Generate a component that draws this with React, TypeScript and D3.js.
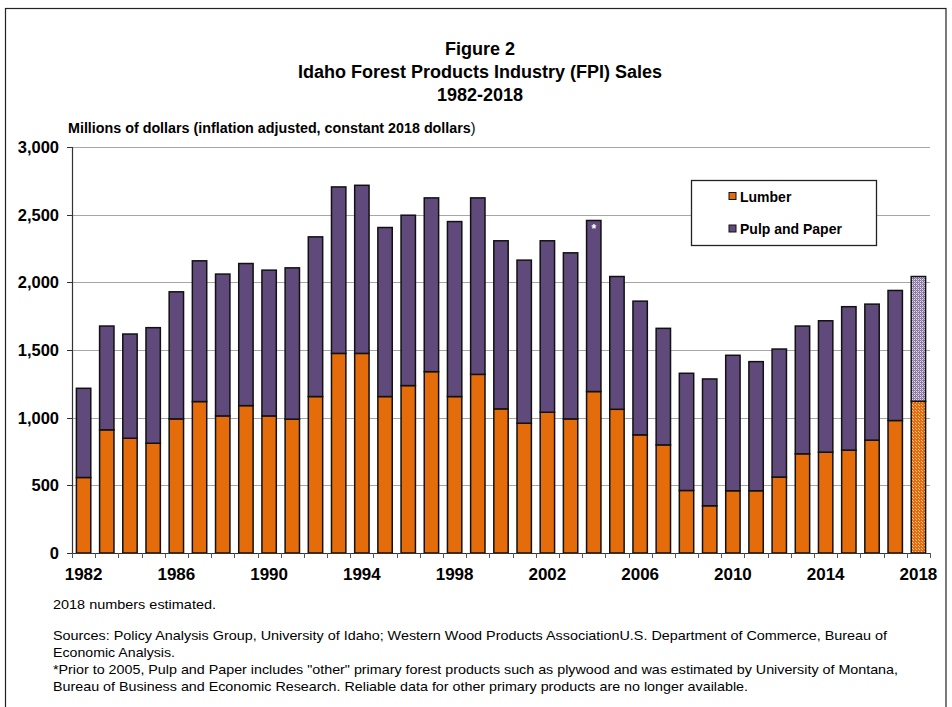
import React, { useEffect, useRef } from "react";
import * as d3 from "d3";

const years = [
  1982, 1983, 1984, 1985, 1986, 1987, 1988, 1989, 1990, 1991, 1992, 1993,
  1994, 1995, 1996, 1997, 1998, 1999, 2000, 2001, 2002, 2003, 2004, 2005,
  2006, 2007, 2008, 2009, 2010, 2011, 2012, 2013, 2014, 2015, 2016, 2017, 2018,
];
const lumber = [
  558, 910, 848, 811, 991, 1119, 1013, 1089, 1013, 989, 1156, 1475, 1475,
  1156, 1237, 1340, 1156, 1320, 1065, 959, 1040, 991, 1193, 1062, 873, 799,
  462, 349, 460, 460, 561, 733, 745, 760, 834, 979, 1121,
];
const pulpPaper = [
  659, 767, 770, 854, 939, 1040, 1048, 1050, 1077, 1118, 1180, 1230, 1242,
  1249, 1259, 1284, 1293, 1304, 1242, 1205, 1267, 1227, 1264, 981, 988, 861,
  866, 937, 1001, 954, 946, 944, 971, 1060, 1005, 961, 922,
];
const yTicks = [0, 500, 1000, 1500, 2000, 2500, 3000];
const xLabels = [1982, 1986, 1990, 1994, 1998, 2002, 2006, 2010, 2014, 2018];
const estimatedYear = 2018;
const asteriskYear = 2004;

const titleLines = [
  "Figure 2",
  "Idaho Forest Products Industry (FPI) Sales",
  "1982-2018",
];
const notes = [
  "2018 numbers estimated.",
  "",
  "Sources: Policy Analysis Group, University of Idaho; Western Wood Products AssociationU.S. Department of Commerce, Bureau of",
  "Economic Analysis.",
  '*Prior to 2005, Pulp and Paper includes "other" primary forest products such as plywood and was estimated by University of Montana,',
  "Bureau of Business and Economic Research. Reliable data for other primary products are no longer available.",
];
const noteWidths = [163, 0, 834, 122, 845, 695];

const ORANGE = "#E46C0A";
const PURPLE = "#604A7B";
const FONT = "'Liberation Sans', Arial, sans-serif";

function App() {
  const ref = useRef<SVGSVGElement>(null);

  useEffect(() => {
    const svg = d3.select(ref.current);
    svg.selectAll("*").remove();
    const W = 952;
    const H = 707;
    const margin = { top: 147, right: 22, bottom: 154, left: 72 };
    const innerW = W - margin.left - margin.right;
    const innerH = H - margin.top - margin.bottom;

    // patterns for the estimated year
    const defs = svg.append("defs");
    const po = defs
      .append("pattern")
      .attr("id", "estOrange")
      .attr("patternUnits", "userSpaceOnUse")
      .attr("width", 3)
      .attr("height", 3);
    po.append("rect").attr("width", 3).attr("height", 3).attr("fill", ORANGE);
    po.append("rect").attr("x", 1).attr("y", 0).attr("width", 1).attr("height", 1).attr("fill", "#F7C49A");
    po.append("rect").attr("x", 0).attr("y", 2).attr("width", 1).attr("height", 1).attr("fill", "#F7C49A");
    const pp = defs
      .append("pattern")
      .attr("id", "estPurple")
      .attr("patternUnits", "userSpaceOnUse")
      .attr("width", 4)
      .attr("height", 4);
    pp.append("rect").attr("width", 4).attr("height", 4).attr("fill", "#8A78A2");
    [[0, 0], [2, 2], [2, 0], [0, 2]].forEach(([px, py]) =>
      pp.append("rect").attr("x", px).attr("y", py).attr("width", 1).attr("height", 1).attr("fill", "#E6E0EE")
    );
    [[1, 1], [3, 3]].forEach(([px, py]) =>
      pp.append("rect").attr("x", px).attr("y", py).attr("width", 1).attr("height", 1).attr("fill", "#BDB1CC")
    );

    svg.append("rect").attr("width", W).attr("height", H).attr("fill", "#fff");
    // outer frame
    svg
      .append("rect")
      .attr("x", 5.5)
      .attr("y", 8.5)
      .attr("width", 940.5)
      .attr("height", 720)
      .attr("fill", "none")
      .attr("stroke", "#222")
      .attr("stroke-width", 1.2);

    // titles
    svg
      .append("g")
      .selectAll("text")
      .data(titleLines)
      .join("text")
      .attr("x", 480)
      .attr("y", (d, i) => 55 + i * 23)
      .attr("text-anchor", "middle")
      .attr("font-family", FONT)
      .attr("font-weight", "bold")
      .attr("font-size", 18)
      .text((d) => d);

    const yTitle = svg
      .append("text")
      .attr("x", 68)
      .attr("y", 133)
      .attr("font-family", FONT)
      .attr("font-weight", "bold")
      .attr("font-size", 14.3);
    yTitle.append("tspan").text("Millions of dollars (inflation adjusted, constant 2018 dollars");
    yTitle.append("tspan").attr("font-weight", "normal").text(")");

    const g = svg
      .append("g")
      .attr("transform", "translate(" + margin.left + "," + margin.top + ")");

    var x = d3
      .scaleBand<number>()
      .domain(years)
      .range([0, innerW])
      .paddingInner(0.38)
      .paddingOuter(0.19);
    var y = d3.scaleLinear().domain([0, 3000]).range([innerH, 0]);

    // gridlines
    g.append("g")
      .selectAll("line")
      .data(yTicks.filter((d) => d > 0))
      .join("line")
      .attr("x1", 0)
      .attr("x2", innerW)
      .attr("y1", (d) => Math.round(y(d)) + 0.5)
      .attr("y2", (d) => Math.round(y(d)) + 0.5)
      .attr("stroke", "#A6A6A6")
      .attr("stroke-width", 1.2);

    // stacked bars
    var table = years.map((yr, i) => ({
      year: yr,
      lumber: lumber[i],
      pulp: pulpPaper[i],
    }));
    var stack = d3.stack<any>().keys(["lumber", "pulp"]);
    var series = stack(table);
    var colors: Record<string, string> = { lumber: ORANGE, pulp: PURPLE };
    var est: Record<string, string> = { lumber: "url(#estOrange)", pulp: "url(#estPurple)" };

    g.append("g")
      .selectAll("g")
      .data(series)
      .join("g")
      .each(function (s: any) {
        d3.select(this)
          .selectAll("rect")
          .data(s)
          .join("rect")
          .attr("x", (d: any) => x(d.data.year)!)
          .attr("y", (d: any) => y(d[1]))
          .attr("width", x.bandwidth())
          .attr("height", (d: any) => y(d[0]) - y(d[1]))
          .attr("fill", (d: any) =>
            d.data.year === estimatedYear ? est[s.key] : colors[s.key]
          )
          .attr("stroke", "#111")
          .attr("stroke-width", 1.5);
      });

    // asterisk
    var ai = years.indexOf(asteriskYear);
    g.append("text")
      .attr("x", x(asteriskYear)! + x.bandwidth() / 2)
      .attr("y", y(lumber[ai] + pulpPaper[ai]) + 13)
      .attr("text-anchor", "middle")
      .attr("font-family", FONT)
      .attr("font-weight", "bold")
      .attr("font-size", 12)
      .attr("fill", "#fff")
      .text("*");

    // y axis
    g.append("line")
      .attr("x1", 0.5)
      .attr("x2", 0.5)
      .attr("y1", 0)
      .attr("y2", innerH)
      .attr("stroke", "#333")
      .attr("stroke-width", 1.2);
    g.append("g")
      .selectAll("line")
      .data(yTicks)
      .join("line")
      .attr("x1", -5)
      .attr("x2", 0)
      .attr("y1", (d) => Math.round(y(d)) + 0.5)
      .attr("y2", (d) => Math.round(y(d)) + 0.5)
      .attr("stroke", "#333");
    g.append("g")
      .selectAll("text")
      .data(yTicks)
      .join("text")
      .attr("x", -13)
      .attr("y", (d) => y(d) + 6)
      .attr("text-anchor", "end")
      .attr("font-family", FONT)
      .attr("font-weight", "bold")
      .attr("font-size", 16.5)
      .text((d) => d3.format(",")(d));

    // x axis
    g.append("line")
      .attr("x1", 0)
      .attr("x2", innerW)
      .attr("y1", innerH + 0.5)
      .attr("y2", innerH + 0.5)
      .attr("stroke", "#333")
      .attr("stroke-width", 1.2);
    var half = (x.step() * x.paddingInner()) / 2;
    var tickPos = years.map((yr) => x(yr)! - half).concat([innerW]);
    tickPos[0] = 0;
    g.append("g")
      .selectAll("line")
      .data(tickPos)
      .join("line")
      .attr("x1", (d) => Math.round(d) + 0.5)
      .attr("x2", (d) => Math.round(d) + 0.5)
      .attr("y1", innerH)
      .attr("y2", innerH + 5)
      .attr("stroke", "#555");
    g.append("g")
      .selectAll("text")
      .data(xLabels)
      .join("text")
      .attr("x", (d) => x(d)! + x.bandwidth() / 2)
      .attr("y", innerH + 27)
      .attr("text-anchor", "middle")
      .attr("font-family", FONT)
      .attr("font-weight", "bold")
      .attr("font-size", 17)
      .text((d) => String(d));

    // legend
    const lg = svg.append("g").attr("transform", "translate(691,180)");
    lg.append("rect")
      .attr("x", 0.5)
      .attr("y", 0.5)
      .attr("width", 185)
      .attr("height", 65)
      .attr("fill", "#fff")
      .attr("stroke", "#222")
      .attr("stroke-width", 1.3);
    [
      { label: "Lumber", color: ORANGE },
      { label: "Pulp and Paper", color: PURPLE },
    ].forEach((item, i) => {
      lg.append("rect")
        .attr("x", 38)
        .attr("y", 12.5 + i * 32.5)
        .attr("width", 7)
        .attr("height", 7)
        .attr("fill", item.color)
        .attr("stroke", "#111")
        .attr("stroke-width", 1);
      lg.append("text")
        .attr("x", 49)
        .attr("y", 21.5 + i * 32.5)
        .attr("font-family", FONT)
        .attr("font-weight", "bold")
        .attr("font-size", 14)
        .text(item.label);
    });

    // footnotes
    svg
      .append("g")
      .selectAll("text")
      .data(notes.map((t, i) => ({ t, w: noteWidths[i], i })).filter((d) => d.t))
      .join("text")
      .attr("x", 53)
      .attr("y", (d) => [609, 0, 640, 657, 674, 691][d.i])
      .attr("font-family", FONT)
      .attr("font-size", 13)
      .attr("textLength", (d) => d.w)
      .attr("lengthAdjust", "spacingAndGlyphs")
      .text((d) => d.t);
  }, []);

  return (
    <svg
      ref={ref}
      width={952}
      height={707}
      style={{ position: "absolute", left: 0, top: 0 }}
    />
  );
}

export default App;
